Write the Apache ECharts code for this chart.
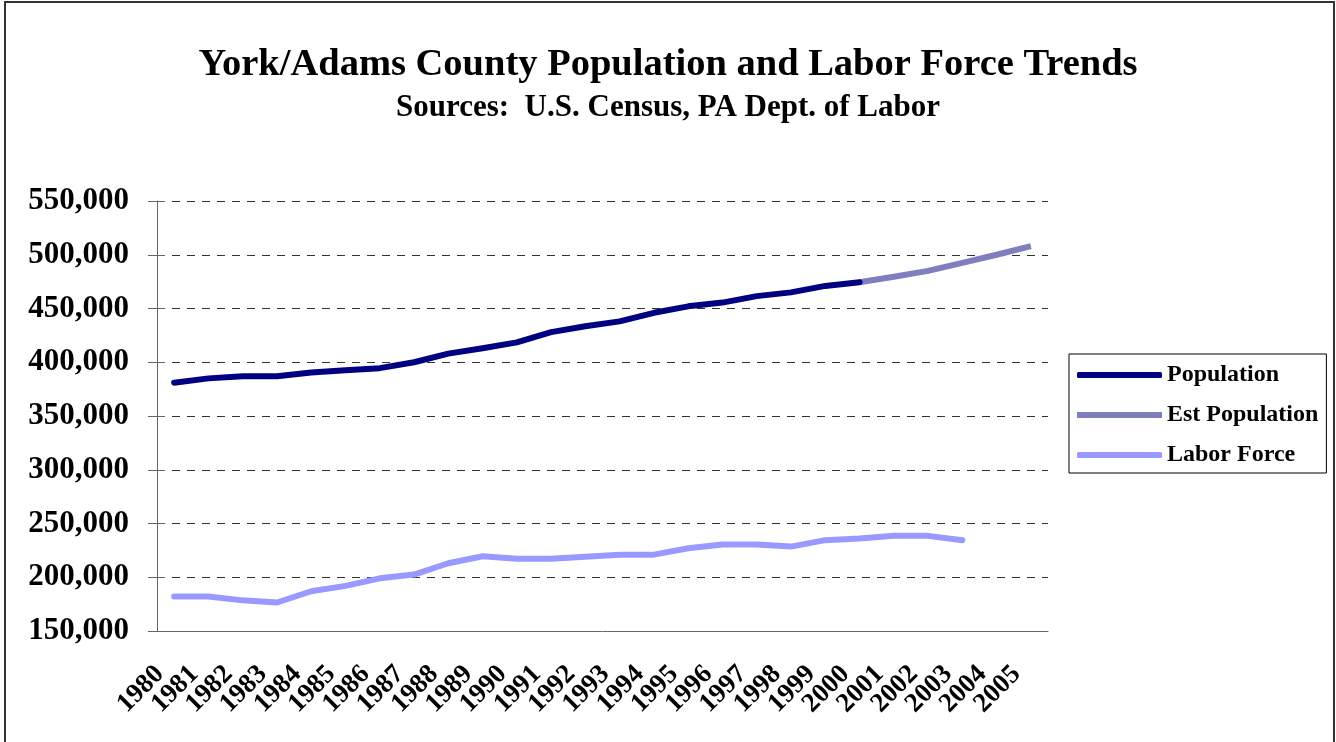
<!DOCTYPE html>
<html>
<head>
<meta charset="utf-8">
<title>York/Adams County Population and Labor Force Trends</title>
<script src="https://cdn.jsdelivr.net/npm/echarts@6/dist/echarts.min.js"></script>
<style>
  html, body { margin: 0; padding: 0; background: #fff; }
  #chart { width: 1336px; height: 742px; }
</style>
</head>
<body>
<div id="chart"></div>
<script>
// values
const years = ["1980", "1981", "1982", "1983", "1984", "1985", "1986", "1987", "1988", "1989",
  "1990", "1991", "1992", "1993", "1994", "1995", "1996", "1997", "1998", "1999",
  "2000", "2001", "2002", "2003", "2004", "2005"];
const population = [381000, 385000, 387000, 387000, 390500, 392500, 394500, 400000, 408000, 413000,
  418500, 428000, 433500, 438000, 446000, 452000, 455500, 461500, 465000, 471000,
  474500, null, null, null, null, null];
const estPopulation = [null, null, null, null, null, null, null, null, null, null,
  null, null, null, null, null, null, null, null, null, null,
  474500, 479500, 485000, 492500, 500000, 508000];
const laborForce = [182000, 182000, 178500, 176500, 187000, 192000, 199000, 202500, 213000, 219500,
  217300, 217300, 219000, 221000, 221000, 227000, 230500, 230500, 228500, 234500,
  236000, 238500, 238500, 234500, null, null];
const yTicks = [150000, 550000, 50000]; // min, max, step

const serif = "'Liberation Serif', 'Times New Roman', serif";
const chart = echarts.init(document.getElementById("chart"));

chart.setOption({
  animation: false,
  backgroundColor: "#fff",
  title: {
    text: "York/Adams County Population and Labor Force Trends",
    subtext: "Sources:  U.S. Census, PA Dept. of Labor",
    left: "center",
    top: 46,
    padding: 0,
    itemGap: 7,
    textStyle: { fontFamily: serif, fontWeight: "bold", fontSize: 38.5, color: "#000" },
    subtextStyle: { fontFamily: serif, fontWeight: "bold", fontSize: 31, color: "#000" }
  },
  graphic: [
    {
      type: "rect",
      shape: { x: 5, y: 2, width: 1329, height: 800 },
      style: { fill: null, stroke: "#333", lineWidth: 2 },
      silent: true
    }
  ],
  legend: {
    orient: "vertical",
    left: 1069,
    top: 354,
    padding: [9, 8, 6, 8],
    itemGap: 16,
    itemWidth: 85,
    itemHeight: 6,
    borderColor: "#000",
    borderWidth: 1,
    textStyle: { fontFamily: serif, fontWeight: "bold", fontSize: 24, color: "#000", lineHeight: 24 },
    data: [
      { name: "Population", icon: "roundRect" },
      { name: "Est Population", icon: "rect" },
      { name: "Labor Force", icon: "roundRect" }
    ]
  },
  grid: { left: 157, right: 288, top: 201, bottom: 111 },
  xAxis: {
    type: "category",
    data: years,
    boundaryGap: true,
    axisLine: { lineStyle: { color: "#666", width: 1 } },
    axisTick: { interval: 0, length: 9, lineStyle: { color: "#555" } },
    axisLabel: {
      interval: 0,
      rotate: 45,
      margin: 25,
      padding: [0, 20, 0, 0],
      color: "#000",
      fontFamily: serif,
      fontWeight: "bold",
      fontSize: 27
    },
    splitLine: { show: false }
  },
  yAxis: [
    {
      type: "value",
      min: yTicks[0],
      max: yTicks[1],
      interval: yTicks[2],
      axisLine: { show: true, lineStyle: { color: "#666", width: 1 } },
      axisTick: { show: true, length: 9, lineStyle: { color: "#666" } },
      axisLabel: {
        margin: 28,
        color: "#000",
        fontFamily: serif,
        fontWeight: "bold",
        fontSize: 31,
        formatter: v => v.toLocaleString("en-US")
      },
      splitLine: { lineStyle: { color: "#333", type: [8, 7], width: 1 } }
    },
    {
      // inner half of the crossing ticks
      type: "value",
      min: yTicks[0],
      max: yTicks[1],
      interval: yTicks[2],
      position: "left",
      axisLine: { show: false },
      axisTick: { show: true, inside: true, length: 8, lineStyle: { color: "#666" } },
      axisLabel: { show: false },
      splitLine: { show: false }
    }
  ],
  series: [
    {
      name: "Population",
      type: "line",
      data: population,
      symbol: "none",
      lineStyle: { color: "#000080", width: 6, cap: "round", join: "round" },
      itemStyle: { color: "#000080" },
      z: 3
    },
    {
      name: "Est Population",
      type: "line",
      data: estPopulation,
      symbol: "none",
      lineStyle: { color: "#7f7fbf", width: 6, cap: "butt", join: "round" },
      itemStyle: { color: "#7f7fbf" },
      z: 2
    },
    {
      name: "Labor Force",
      type: "line",
      data: laborForce,
      symbol: "none",
      lineStyle: { color: "#9999ff", width: 6, cap: "round", join: "round" },
      itemStyle: { color: "#9999ff" },
      z: 2
    }
  ]
});
</script>
</body>
</html>
